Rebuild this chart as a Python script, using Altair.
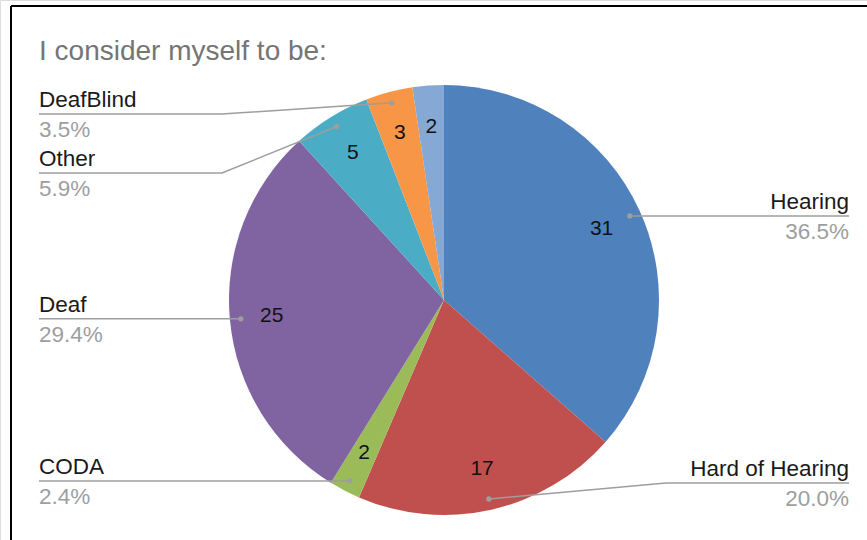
import altair as alt
import pandas as pd
import numpy as np

# ---- data ----
title_text = "I consider myself to be:"
categories = ["Hearing", "Hard of Hearing", "CODA", "Deaf", "Other", "DeafBlind", "Unlabeled"]
counts = [31, 17, 2, 25, 5, 3, 2]
show_outside_label = [True, True, True, True, True, True, False]

# ---- styling / layout ----
colors = ["#4F81BD", "#C0504D", "#9BBB59", "#8064A2", "#4BACC6", "#F79646", "#86A8D4"]
W, H = 867, 540
CX, CY, R = 444, 300, 215
R_NUM, R_DOT, ELBOW = 173, 204, 222
LEFT_X, RIGHT_X = 39, 849
Y_MIN, Y_MAX, GAP = 114, 483, 59
FONT = "Liberation Sans"

df = pd.DataFrame({"category": categories, "count": counts,
                   "ord": list(range(len(categories))), "show": show_outside_label})
total = df["count"].sum()
df["pct"] = (df["count"] / total * 100).map(lambda v: f"{v:.1f}%")

# geometry of leader lines, derived from the values
cum = np.cumsum(df["count"].values)
mid = (cum - df["count"].values / 2) / total * 2 * np.pi
df["dot_x"] = CX + R_DOT * np.sin(mid)
df["dot_y"] = CY - R_DOT * np.cos(mid)
df["side"] = np.where(np.sin(mid) >= 0, "right", "left")
lab = df[df["show"]].copy()
lab["label_y"] = lab["dot_y"].clip(Y_MIN, Y_MAX)
for side in ["left", "right"]:
    idx = lab[lab["side"] == side].sort_values("label_y").index
    prev = None
    for i in idx:
        if prev is not None and lab.at[i, "label_y"] < prev + GAP:
            lab.at[i, "label_y"] = prev + GAP
        prev = lab.at[i, "label_y"]

rows = []
for _, r in lab.iterrows():
    sgn = 1 if r["side"] == "right" else -1
    end_x = RIGHT_X if sgn == 1 else LEFT_X
    rows.append({"category": r["category"], "step": 0, "px": r["dot_x"], "py": r["dot_y"]})
    rows.append({"category": r["category"], "step": 1, "px": CX + sgn * ELBOW, "py": r["label_y"]})
    rows.append({"category": r["category"], "step": 2, "px": end_x, "py": r["label_y"]})
lines_df = pd.DataFrame(rows)

pie = alt.Chart(df).mark_arc(outerRadius=R, strokeWidth=0).encode(
    theta=alt.Theta("count:Q", stack=True),
    color=alt.Color("category:N", scale=alt.Scale(domain=categories, range=colors), legend=None),
    order=alt.Order("ord:Q"),
    x=alt.value(CX), y=alt.value(CY),
)

nums = alt.Chart(df).mark_text(radius=R_NUM, fontSize=21, font=FONT, color="#111111").encode(
    theta=alt.Theta("count:Q", stack=True),
    order=alt.Order("ord:Q"),
    text="count:Q",
    x=alt.value(CX), y=alt.value(CY),
)

leaders = alt.Chart(lines_df).mark_line(color="#9E9E9E", strokeWidth=1.5).encode(
    x=alt.X("px:Q", scale=None), y=alt.Y("py:Q", scale=None),
    detail="category:N", order="step:Q",
)

dots = alt.Chart(lab).mark_circle(size=28, color="#9E9E9E", opacity=1).encode(
    x=alt.X("dot_x:Q", scale=None), y=alt.Y("dot_y:Q", scale=None),
)

def side_labels(side, align, xpos):
    base = alt.Chart(lab).transform_filter(alt.datum.side == side)
    name = base.mark_text(align=align, baseline="alphabetic", dy=-7, fontSize=22.5,
                          font=FONT, color="#1A1A1A").encode(
        x=alt.value(xpos), y=alt.Y("label_y:Q", scale=None), text="category:N")
    pct = base.mark_text(align=align, baseline="alphabetic", dy=23, fontSize=22.5,
                         font=FONT, color="#9E9E9E").encode(
        x=alt.value(xpos), y=alt.Y("label_y:Q", scale=None), text="pct:N")
    return name + pct

title = alt.Chart(pd.DataFrame({"t": [title_text]})).mark_text(
    align="left", baseline="alphabetic", fontSize=28, font=FONT, color="#757575").encode(
    x=alt.value(LEFT_X), y=alt.value(60), text="t:N")

frame_top = alt.Chart(pd.DataFrame({"a": [0]})).mark_rule(color="black", strokeWidth=2).encode(
    x=alt.value(11), x2=alt.value(W), y=alt.value(6))
frame_left = alt.Chart(pd.DataFrame({"a": [0]})).mark_rule(color="black", strokeWidth=2).encode(
    x=alt.value(11), y=alt.value(6), y2=alt.value(H))

chart = alt.layer(
    pie, nums, leaders, dots,
    side_labels("left", "left", LEFT_X), side_labels("right", "right", RIGHT_X),
    title, frame_top, frame_left,
).properties(width=W, height=H, padding=0, autosize=alt.AutoSizeParams(type="none")
).configure_view(stroke=None).configure(background="white")

chart.save("out.html", embed_options={"renderer": "svg", "actions": False})
